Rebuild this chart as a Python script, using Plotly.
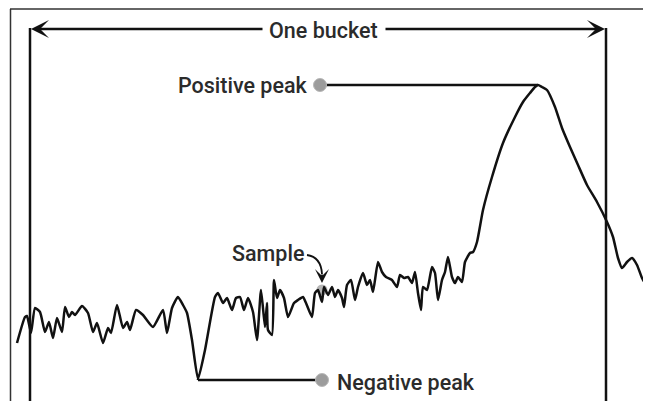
import plotly.graph_objects as go

# trace: horizontal position and level (bottom = 0)
trace_x = [17, 25, 27, 31, 35, 40, 45, 49, 53, 57, 62, 65, 69, 72, 75, 82, 88, 93, 97, 103,
           108, 111, 117, 123, 127, 130, 136, 143, 153, 163, 167, 172, 178, 183, 187, 192, 198,
           205, 215, 218, 223, 227, 232, 236, 240, 244, 248, 253, 257, 261, 265, 267, 268, 272,
           274, 277, 280, 284, 288, 294, 298, 303, 306, 312, 315, 318, 322, 324, 328, 332, 335,
           338, 342, 344, 347, 351, 355, 358, 363, 367, 370, 373, 378, 382, 386, 392, 397, 400,
           404, 408, 412, 415, 418, 421, 423, 427, 432, 435, 438, 442, 445, 448, 452, 455, 458,
           462, 465, 470, 473, 477, 483, 492, 503, 515, 523, 530, 535, 538, 542, 547, 555, 562,
           570, 578, 587, 597, 607, 613, 618, 622, 627, 632, 637, 642, 645, 648, 651]
trace_y = [58, 84, 85, 68, 93, 89, 69, 79, 63, 83, 69, 94, 84, 89, 86, 95, 88, 69, 78, 58,
           73, 68, 96, 73, 79, 71, 91, 86, 74, 91, 68, 93, 104, 96, 88, 61, 22,
           51, 104, 108, 98, 103, 91, 103, 104, 91, 103, 89, 61, 111, 74, 98, 71, 66,
           121, 103, 111, 103, 84, 98, 101, 104, 98, 84, 108, 111, 99, 114, 106, 114, 104,
           111, 103, 94, 116, 121, 101, 114, 128, 116, 121, 109, 139, 129, 124, 121, 114, 126,
           123, 124, 118, 129, 108, 91, 114, 111, 134, 128, 101, 121, 129, 144, 124, 118, 124,
           119, 139, 148, 149, 159, 191, 224, 258, 284, 299, 308, 314, 316, 314, 311, 294, 273,
           254, 236, 216, 199, 179, 164, 143, 133, 139, 143, 136, 123, 118, 137, 143]

bucket_left = 30
bucket_right = 606
labels = ["One bucket", "Positive peak", "Sample", "Negative peak"]

ink = "#111111"
txt = "#2b2b2b"
dot = "#9c9c9c"
font = dict(family="Roboto", size=21.5, color=txt, weight=500)

# the page body adds an 8px margin, so the ranges are shifted to cancel it
PAGE = 8

i_max = trace_y.index(max(trace_y))
i_min = trace_y.index(min(trace_y))
pos_dot = (320, trace_y[i_max])
neg_dot = (322, trace_y[i_min] - 1)
sample_i = trace_x.index(324)

fig = go.Figure()

# leader lines to the peaks
fig.add_trace(go.Scatter(x=[pos_dot[0], trace_x[i_max]], y=[pos_dot[1], trace_y[i_max]],
                         mode="lines", line=dict(color=ink, width=2.5), hoverinfo="skip"))
fig.add_trace(go.Scatter(x=[trace_x[i_min], neg_dot[0]], y=[neg_dot[1], neg_dot[1]],
                         mode="lines", line=dict(color=ink, width=2.5), hoverinfo="skip"))
fig.add_trace(go.Scatter(x=[trace_x[i_min], trace_x[i_min]], y=[trace_y[i_min], neg_dot[1]],
                         mode="lines", line=dict(color=ink, width=2.5), hoverinfo="skip"))

# sample dot sits under the trace
fig.add_trace(go.Scatter(x=[trace_x[sample_i] - 2], y=[trace_y[sample_i] - 3], mode="markers",
                         marker=dict(size=11, color="#b5b5b5"), hoverinfo="skip"))

fig.add_trace(go.Scatter(x=trace_x, y=trace_y, mode="lines",
                         line=dict(color=ink, width=2.5, shape="spline", smoothing=0.5),
                         hoverinfo="skip"))

fig.add_trace(go.Scatter(x=[pos_dot[0], neg_dot[0]], y=[pos_dot[1], neg_dot[1]], mode="markers",
                         marker=dict(size=13, color=dot, line=dict(color="#b8b8b8", width=1)),
                         hoverinfo="skip"))

# frame and bucket edges
fig.add_shape(type="line", x0=10.5, x1=10.5, y0=-10, y1=392, line=dict(color="#333", width=1.5))
fig.add_shape(type="line", x0=10, x1=660, y0=392, y1=392, line=dict(color="#333", width=1.5))
for bx in (bucket_left, bucket_right):
    fig.add_shape(type="line", x0=bx, x1=bx, y0=-10, y1=373, line=dict(color=ink, width=2.5))

# bucket arrow
arrow = dict(showarrow=True, arrowhead=3, arrowsize=1.2, arrowwidth=2.5, arrowcolor=ink,
             xref="x", yref="y", axref="x", ayref="y", text="", standoff=0, startstandoff=0)
fig.add_annotation(x=bucket_left + 1, y=372, ax=264, ay=372, **arrow)
fig.add_annotation(x=bucket_right - 1, y=372, ax=384, ay=372, **arrow)

fig.add_annotation(x=323, y=371, text=labels[0], showarrow=False, font=font)
fig.add_annotation(x=310, y=316, text=labels[1], showarrow=False, xanchor="right", font=font)
fig.add_annotation(x=306, y=148, text=labels[2], showarrow=False, xanchor="right", font=font)
fig.add_annotation(x=335, y=19, text=labels[3], showarrow=False, xanchor="left", font=font)

# curved pointer from "Sample"
fig.add_shape(type="path", path="M 307,146 Q 321,144 322,127", line=dict(color=ink, width=1.8))
fig.add_annotation(x=322, y=118, ax=322, ay=128, showarrow=True, arrowhead=3, arrowsize=1.3,
                   arrowwidth=1.8, arrowcolor=ink, xref="x", yref="y", axref="x", ayref="y",
                   text="", standoff=0)

fig.update_layout(
    width=651, height=401,
    margin=dict(l=0, r=0, t=0, b=0),
    paper_bgcolor="white", plot_bgcolor="white",
    showlegend=False,
    xaxis=dict(range=[PAGE, 651 + PAGE], visible=False, fixedrange=True),
    yaxis=dict(range=[-PAGE, 401 - PAGE], visible=False, fixedrange=True),
)

fig.write_html("out.html")
